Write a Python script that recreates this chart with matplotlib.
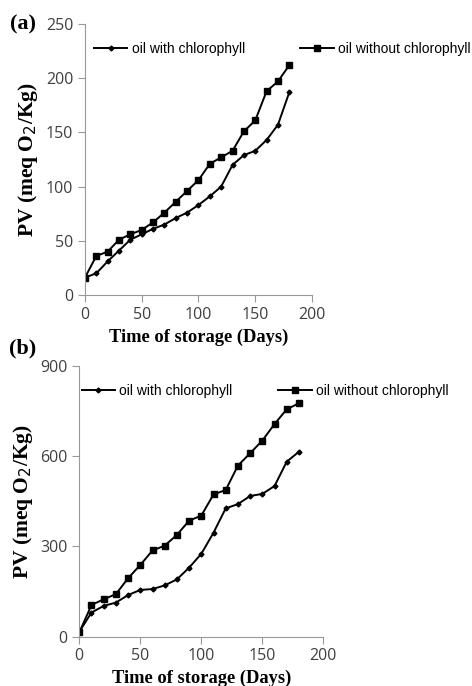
import matplotlib.pyplot as plt

# storage days
days = [0, 10, 20, 30, 40, 50, 60, 70, 80, 90, 100, 110, 120, 130, 140, 150, 160, 170, 180]

# (a) PV values
a_with = [16, 20, 31, 41, 51, 56, 61, 65, 71, 76, 83, 91, 100, 120, 129, 133, 143, 157, 187]
a_without = [16, 36, 40, 51, 56, 60, 67, 76, 86, 96, 106, 121, 127, 133, 151, 161, 188, 197, 212]

# (b) PV values
b_with = [16, 80, 102, 113, 138, 155, 158, 170, 190, 229, 275, 345, 426, 440, 467, 474, 500, 581, 614]
b_without = [14, 105, 124, 141, 194, 238, 286, 302, 338, 385, 402, 472, 487, 568, 609, 651, 706, 755, 775]

fig = plt.figure(figsize=(4.72, 6.86), dpi=100)

axes_cfg = [
    # rect, with, without, ymax, yticks, tag, tag pos, legend pos, col spacing
    ([0.180, 0.570, 0.481, 0.395], a_with, a_without, 250, [0, 50, 100, 150, 200, 250],
     '(a)', (-0.33, 1.0), (0.04, 0.908), 4.0),
    ([0.168, 0.072, 0.517, 0.395], b_with, b_without, 900, [0, 300, 600, 900],
     '(b)', (-0.29, 1.065), (0.01, 0.907), 3.3),
]

for rect, yw, ywo, ymax, yticks, tag, tagpos, legpos, colsp in axes_cfg:
    ax = fig.add_axes(rect)
    ax.plot(days, yw, color='black', lw=1.4, marker='D', ms=2.5, label='oil with chlorophyll')
    ax.plot(days, ywo, color='black', lw=1.4, marker='s', ms=5, label='oil without chlorophyll')
    ax.set_xlim(0, 200)
    ax.set_ylim(0, ymax)
    ax.set_xticks([0, 50, 100, 150, 200])
    ax.set_yticks(yticks)
    for s in ['top', 'right']:
        ax.spines[s].set_visible(False)
    for s in ['left', 'bottom']:
        ax.spines[s].set_color('#999999')
        ax.spines[s].set_linewidth(0.8)
    ax.tick_params(colors='#999999', length=5, width=0.8, labelcolor='#404040', labelsize=11.5)
    for lab in ax.get_xticklabels() + ax.get_yticklabels():
        lab.set_fontfamily('Open Sans')
    ax.set_xlabel('Time of storage (Days)', fontfamily='Liberation Serif', fontweight='bold',
                  fontsize=13.3, labelpad=4)
    ax.set_ylabel('PV (meq O$_2$/Kg)', fontfamily='Liberation Serif', fontweight='bold',
                  fontsize=15.5, labelpad=4)
    ax.legend(loc='center left', bbox_to_anchor=legpos, ncol=2, frameon=False,
              prop={'family': 'Liberation Sans', 'size': 10}, handlelength=2.4,
              handletextpad=0.3, columnspacing=colsp, borderpad=0, borderaxespad=0)
    ax.text(tagpos[0], tagpos[1], tag, transform=ax.transAxes,
            fontfamily='Liberation Serif', fontweight='bold', fontsize=16, va='center')

plt.rcParams['mathtext.fontset'] = 'custom'
plt.savefig('out.png', dpi=100)
